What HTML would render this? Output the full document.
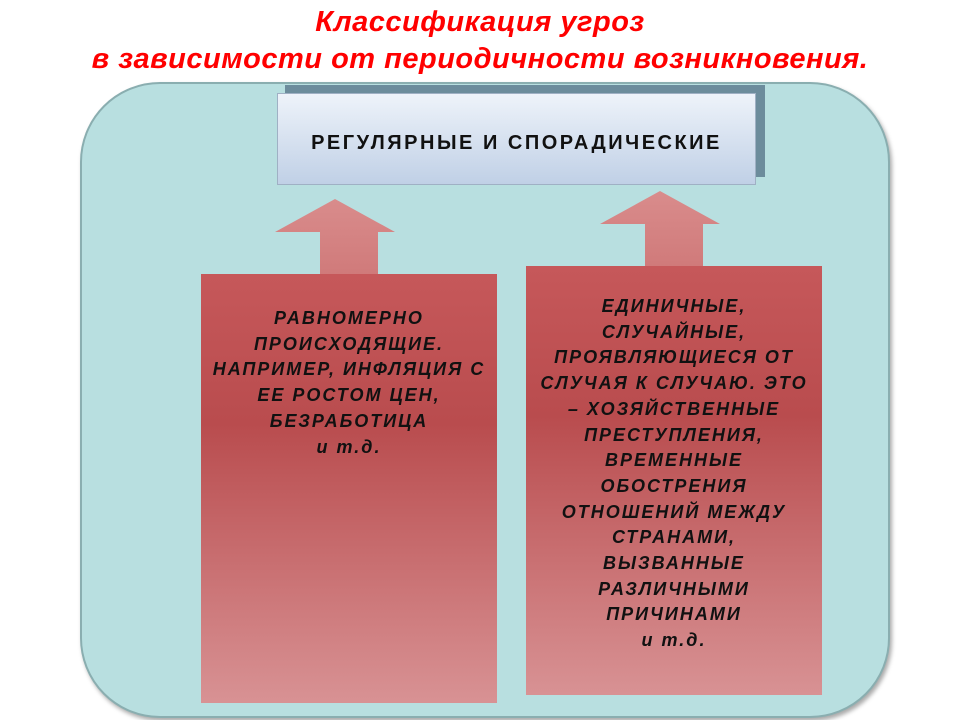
<!DOCTYPE html>
<html><head><meta charset="utf-8"><style>
body{margin:0;width:960px;height:720px;background:#fff;position:relative;overflow:hidden;font-family:"Liberation Sans",sans-serif}
.t{position:absolute;left:0;width:960px;text-align:center;color:#f00;font-style:italic;font-weight:bold;font-size:29px;letter-spacing:0.5px}
.outer{position:absolute;left:80px;top:82px;width:806px;height:632px;background:#b8dfe0;border:2px solid #8aaeb0;border-radius:80px;box-shadow:2px 3px 4px #aaa}
.box{position:absolute;background:linear-gradient(#c6585a,#b94c4e 35%,#d89294);color:#111;font-weight:bold;font-style:italic;font-size:18px;letter-spacing:2px;line-height:25.7px;text-align:center;white-space:nowrap}
</style></head><body>
<div class="t" style="top:6px">Классификация угроз</div>
<div class="t" style="top:43px">в зависимости от периодичности возникновения.</div>
<div class="outer"></div>
<div style="position:absolute;left:285px;top:85px;width:480px;height:92px;background:#6c8c9c"></div>
<div style="position:absolute;left:277px;top:93px;width:477px;height:90px;background:linear-gradient(#eef3fa,#c0d0e6);border:1px solid #9fb0c4;font-weight:bold;font-size:20px;letter-spacing:2.5px;line-height:98px;text-align:center;color:#111;white-space:nowrap">РЕГУЛЯРНЫЕ И СПОРАДИЧЕСКИЕ</div>
<svg style="position:absolute;left:0;top:0" width="960" height="720">
<defs><linearGradient id="a" x1="0" y1="0" x2="0" y2="1"><stop offset="0" stop-color="#d98c8c"/><stop offset="1" stop-color="#d07a7a"/></linearGradient></defs>
<polygon points="335,199 395,232 378,232 378,275 320,275 320,232 275,232" fill="url(#a)"/>
<polygon points="660,191 720,224 703,224 703,267 645,267 645,224 600,224" fill="url(#a)"/>
</svg>
<div class="box" style="left:201px;top:274px;width:296px;height:429px"><div style="padding-top:32px">РАВНОМЕРНО<br>ПРОИСХОДЯЩИЕ.<br>НАПРИМЕР, ИНФЛЯЦИЯ С<br>ЕЕ РОСТОМ ЦЕН,<br>БЕЗРАБОТИЦА<br>и т.д.</div></div>
<div class="box" style="left:526px;top:266px;width:296px;height:429px"><div style="padding-top:28px">ЕДИНИЧНЫЕ,<br>СЛУЧАЙНЫЕ,<br>ПРОЯВЛЯЮЩИЕСЯ ОТ<br>СЛУЧАЯ К СЛУЧАЮ. ЭТО<br>– ХОЗЯЙСТВЕННЫЕ<br>ПРЕСТУПЛЕНИЯ,<br>ВРЕМЕННЫЕ<br>ОБОСТРЕНИЯ<br>ОТНОШЕНИЙ МЕЖДУ<br>СТРАНАМИ,<br>ВЫЗВАННЫЕ<br>РАЗЛИЧНЫМИ<br>ПРИЧИНАМИ<br>и т.д.</div></div>
</body></html>
